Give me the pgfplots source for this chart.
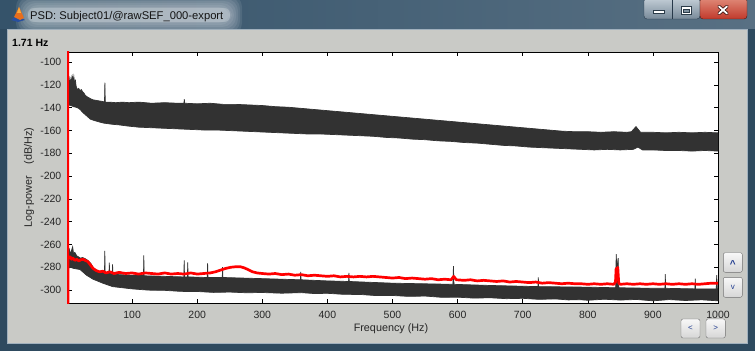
\documentclass[border=0pt]{standalone}
\usepackage{pgfplots}
\pgfplotsset{compat=1.18}
\usepackage{fontspec}
\setmainfont{Liberation Sans}
\definecolor{framedark}{HTML}{2E4A5F}
\definecolor{titleL}{HTML}{35536A}
\definecolor{titleR}{HTML}{587083}
\definecolor{panel}{HTML}{C9CAC6}
\definecolor{bandgray}{HTML}{323232}
\definecolor{tickgray}{HTML}{262626}
\definecolor{glyph}{HTML}{1F3B8F}
\definecolor{iconblue}{HTML}{2850A0}
\definecolor{iconorange}{HTML}{E66E1E}
\definecolor{iconyellow}{HTML}{FAAA3C}
\definecolor{titletext}{HTML}{141414}
\definecolor{glow}{HTML}{E4E9EC}
\definecolor{capTop}{HTML}{C3CED7}
\definecolor{capBot}{HTML}{788A99}
\definecolor{capEdge}{HTML}{27394A}
\definecolor{capIcon}{HTML}{2B3B48}
\definecolor{capInner}{HTML}{7F909E}
\definecolor{closeTop}{HTML}{E08A78}
\definecolor{closeBot}{HTML}{C0392B}
\definecolor{closeEdge}{HTML}{4A1A14}
\definecolor{closeX}{HTML}{3A1410}
\definecolor{clientEdge}{HTML}{A0B0BD}
\definecolor{btnEdge}{HTML}{707070}
\definecolor{btnTop}{HTML}{F8F8F8}
\definecolor{btnBot}{HTML}{D6D6D6}
\tikzset{btn/.style={draw=btnEdge, top color=btnTop, bottom color=btnBot, rounded corners=2bp}}
\begin{document}
\begin{tikzpicture}
\begin{scope}[x=1bp,y=1bp]
\useasboundingbox (0,0) rectangle (755,351);
\fill[framedark] (0,0) rectangle (755,351);
\shade[left color=titleL, right color=titleR] (0,322) rectangle (755,351);
% soft glow behind the title
\foreach \d in {14,12,10,8,6,4,2}{
  \fill[glow, opacity=0.1, rounded corners=12] (30-\d,330-\d) rectangle (228+\d,342+\d);
}
\fill[glow, opacity=0.3, rounded corners=6] (28,329) rectangle (230,343);
% matlab-like icon
\fill[iconblue] (11,331) -- (17,336) -- (25,331) -- (18,329) -- cycle;
\fill[iconorange] (14,334) -- (19,344) -- (24,333) -- (20,331) -- cycle;
\fill[iconyellow] (17,338) -- (19,344) -- (21,338) -- cycle;
% title
\node[anchor=base west, inner sep=0pt, font=\fontsize{11.2bp}{13bp}\selectfont, text=titletext] at (30,331.5) {PSD: Subject01/@rawSEF\_000-export};
% caption buttons
\shade[top color=capTop, bottom color=capBot, draw=capEdge, rounded corners=3] (644,332) rectangle (700,353);
\draw[capEdge] (672,332) -- (672,351);
\filldraw[fill=white, draw=capIcon] (653,338) rectangle (664,341);
\filldraw[fill=white, draw=capIcon] (681,336.5) rectangle (691,344.5);
\filldraw[fill=capInner, draw=capIcon] (683,338.5) rectangle (689,341.5);
\shade[top color=closeTop, bottom color=closeBot, draw=closeEdge, rounded corners=3] (700,332) rectangle (747,353);
\draw[closeX, line width=3.4, line cap=round] (719,337.5)--(727,344.5) (719,344.5)--(727,337.5);
\draw[white, line width=1.8, line cap=round] (719,337.5)--(727,344.5) (719,344.5)--(727,337.5);
% client area
\fill[panel] (8,8) rectangle (747,321);
\draw[clientEdge, line width=0.8] (7.6,7.6) rectangle (747.4,321.4);
\node[anchor=base west, inner sep=0pt, font=\bfseries\fontsize{10.5bp}{12bp}\selectfont, text=black] at (12,305) {1.71 Hz};
% navigation buttons
\shade[btn] (723.3,78.7) rectangle (742.3,98.3);
\node[font=\bfseries\fontsize{10bp}{10bp}\selectfont, text=glyph, inner sep=0pt] at (732.8,86.5) {\textasciicircum};
\shade[btn] (723.3,53.7) rectangle (742.3,73.7);
\node[font=\fontsize{8bp}{8bp}\selectfont, text=glyph, inner sep=0pt] at (732.8,63.5) {v};
\shade[btn] (681,13) rectangle (700,32);
\node[font=\fontsize{8bp}{8bp}\selectfont, text=glyph, inner sep=0pt] at (690.5,22.5) {<};
\shade[btn] (706,13) rectangle (725.3,32);
\node[font=\fontsize{8bp}{8bp}\selectfont, text=glyph, inner sep=0pt] at (715.6,22.5) {>};
\end{scope}
\begin{axis}[
  at={(67bp,48bp)}, anchor=south west,
  scale only axis, width=651bp, height=251bp,
  xmin=0, xmax=1000, ymin=-311.4, ymax=-91,
  xtick={100,200,...,1000}, ytick={-300,-280,...,-100},
  tick align=inside, tick pos=both,
  major tick length=4.5bp,
  every tick/.style={black, line width=0.6bp},
  axis line style={black, line width=0.6bp},
  axis background/.style={fill=white},
  tick label style={font=\fontsize{10.5bp}{12bp}\selectfont, text=tickgray},
  /pgf/number format/assume math mode=true,
  /pgf/number format/1000 sep={},
  xticklabel style={inner sep=0pt, yshift=-7.6bp},
  yticklabel style={inner sep=0pt, xshift=-5.5bp},
  xlabel={Frequency (Hz)},
  xlabel style={at={(axis description cs:0.4977,-0.1036)}, anchor=center, font=\fontsize{10.8bp}{12bp}\selectfont, text=tickgray},
  ylabel={Log-power\hspace{12bp}(dB/Hz)},
  ylabel style={at={(axis description cs:-0.0584,0.5)}, anchor=center, font=\fontsize{10.8bp}{12bp}\selectfont, text=tickgray},
]
% upper band (top envelope, then bottom envelope back)
\addplot[fill=bandgray, draw=bandgray, line width=0.7bp] coordinates {
(1.71,-118) (2.5,-112) (3.5,-121) (4.5,-115) (5.5,-120) (6.5,-114) (7.5,-119) (8.5,-113) (9.5,-117) (10.5,-112.5) (11.5,-118) (13,-116) (14,-121) (16,-124) (18,-123) (20,-125) (22,-124) (24,-126) (26,-127) (28,-129) (30,-130) (33,-131) (36,-132) (40,-133) (45,-133.5) (50,-134) (55,-134.5) (57.6,-135) (58.2,-118) (58.8,-135) (65,-135) (75,-135.5) (85,-135) (95,-135.5) (110,-135) (130,-136) (150,-135.5) (170,-136) (179.6,-136) (180.2,-132.5) (180.8,-136) (200,-136.5) (220,-136) (240,-137) (260,-137) (280,-137.5) (300,-138) (320,-139) (340,-139.5) (360,-140.5) (380,-141.5) (400,-142.5) (420,-143.5) (440,-144.5) (460,-145.5) (480,-146.5) (500,-147.5) (520,-148.5) (540,-149.5) (560,-150.5) (580,-151.5) (600,-152.5) (620,-153.5) (640,-154.5) (660,-155.5) (680,-156.5) (700,-157.5) (720,-158.5) (740,-159.5) (760,-160.5) (780,-161) (800,-161) (820,-161.5) (840,-161) (860,-161.5) (867,-161) (874,-156.5) (881,-161.5) (900,-161.5) (920,-162) (940,-161.5) (960,-162) (980,-161.5) (1000,-162)
(1000,-178) (980,-177.5) (960,-178) (940,-177.5) (920,-177.5) (900,-177) (884,-177) (877,-174.5) (870,-176.5) (850,-177) (830,-176.5) (810,-177) (790,-176.5) (770,-176) (750,-175.5) (730,-175) (710,-174.5) (690,-173.5) (670,-173) (650,-172) (630,-171) (610,-170.5) (590,-169.5) (570,-169) (550,-168) (530,-167.5) (510,-166.5) (490,-166) (470,-165) (450,-164.5) (430,-164) (410,-163.5) (390,-163) (370,-163) (350,-162.5) (330,-162) (310,-161.5) (290,-161) (270,-160.5) (250,-160) (230,-159.5) (210,-159.5) (190,-159) (170,-158.5) (150,-158) (130,-157.5) (110,-157) (93,-156) (80,-155) (70,-154.5) (57,-153.5) (50,-152.5) (41,-151) (36,-150) (32,-148) (28,-146) (24,-144) (21,-142) (18,-140.5) (14,-139.5) (10,-139) (6,-138) (1.71,-137.5)
} -- cycle;
% lower band
\addplot[fill=bandgray, draw=bandgray, line width=0.7bp] coordinates {
(1.71,-254) (2.3,-266) (3.5,-264) (5,-268) (6.5,-266) (8.7,-262) (10,-268) (12,-267) (15,-270) (18,-271) (20,-272) (24,-271.5) (28,-272.5) (32,-274) (37,-277) (41,-281) (45,-282.5) (50,-284) (55,-284) (57.6,-284.5) (58.1,-265.6) (58.6,-285) (64.5,-285) (65,-276) (65.5,-285) (69.5,-285.5) (70,-277.5) (70.5,-286) (80,-286.5) (100,-287) (117.5,-287) (118,-269.5) (118.5,-287.5) (150,-288) (179.5,-288.5) (180,-274) (180.5,-288.5) (185,-288.5) (185.5,-275.7) (186,-288.5) (215.5,-289) (216,-276.5) (216.5,-289) (238.5,-289) (239,-280) (239.5,-289) (300,-290) (358.5,-291) (359,-284) (359.5,-291) (400,-292) (432.5,-292.5) (433,-285) (433.5,-292.5) (500,-294) (592.8,-295) (593.6,-279) (594.4,-295) (650,-296) (723.5,-297) (724,-289) (724.5,-297) (800,-297.5) (842.8,-298) (843.6,-268.5) (844.6,-282) (846.6,-272) (847.6,-298) (900,-298.5) (918.5,-298.5) (919,-286) (919.5,-298.5) (964.5,-299) (965,-290) (965.5,-299) (997.3,-299) (998,-287) (999,-299) (1000,-299)
(1000,-309.5) (975,-308.6) (950,-309.2) (925,-308.4) (900,-309.5) (875,-308.3) (850,-308.8) (825,-308.1) (800,-309) (788,-308.5) (770,-308.7) (750,-307.8) (725,-308.2) (700,-307.3) (675,-307.6) (650,-306.8) (625,-307.1) (600,-306.3) (575,-306.4) (550,-305.3) (525,-305.6) (500,-304.8) (475,-304.9) (450,-303.9) (425,-303.8) (400,-302.9) (380,-303.1) (360,-302.3) (330,-302.8) (300,-302.2) (275,-302.4) (250,-301.8) (225,-302.1) (200,-301.3) (175,-301.2) (150,-300.3) (125,-300.1) (100,-299) (85,-298) (70,-297) (55,-294) (40,-290.5) (30,-287) (20,-282) (10,-281) (5,-280) (1.71,-281)
} -- cycle;
% red trace
\addplot[red, line width=2.7bp, line join=round] coordinates {
(1.3,-40) (1.4,-400) (1.71,-270) (3,-272) (5,-271) (7,-273) (9,-272) (12,-274) (15,-273) (18,-274.5) (21,-273.5) (25,-273) (28,-274) (32,-275) (36,-278) (40,-281) (45,-283) (50,-284) (55,-283.5) (60,-285) (66,-284) (72,-285.5) (80,-284.5) (90,-285.5) (100,-285) (110,-286) (120,-285) (130,-285.5) (140,-286) (150,-285) (160,-286) (170,-285.5) (180,-286) (190,-285) (200,-286) (210,-285.5) (220,-285) (228,-284) (236,-282.5) (244,-281) (252,-280) (260,-279.5) (266,-279.5) (272,-280.5) (278,-282) (285,-284) (292,-285) (300,-285.5) (310,-286) (320,-285.5) (330,-286.5) (340,-286) (350,-287) (360,-286.5) (370,-287.5) (380,-287) (390,-287.5) (400,-288) (410,-287.5) (420,-288.5) (430,-288) (440,-288.5) (450,-288) (460,-288.5) (470,-288) (480,-288.5) (490,-289) (500,-289.5) (510,-289) (520,-290) (530,-289.5) (540,-290) (550,-290.5) (560,-290) (570,-291) (580,-290.5) (590,-291) (594,-288) (598,-291) (610,-291.5) (620,-291) (630,-292) (640,-291.5) (650,-292) (660,-292.5) (670,-292) (680,-293) (690,-292.5) (700,-293) (710,-293.5) (720,-293) (730,-294) (740,-293.5) (750,-294) (760,-294.5) (770,-294) (780,-294.5) (790,-294.5) (800,-295) (810,-294.5) (820,-295) (830,-294.5) (840,-295) (842.5,-293) (843.5,-281) (845,-284) (846,-280) (847.5,-294) (850,-295) (860,-294.5) (870,-295) (880,-294.5) (890,-295) (900,-294.5) (910,-295) (920,-294.5) (930,-295) (940,-294.5) (950,-295) (960,-294.5) (970,-295) (980,-294.5) (990,-294) (1000,-294)
};
\end{axis}
\end{tikzpicture}
\end{document}
